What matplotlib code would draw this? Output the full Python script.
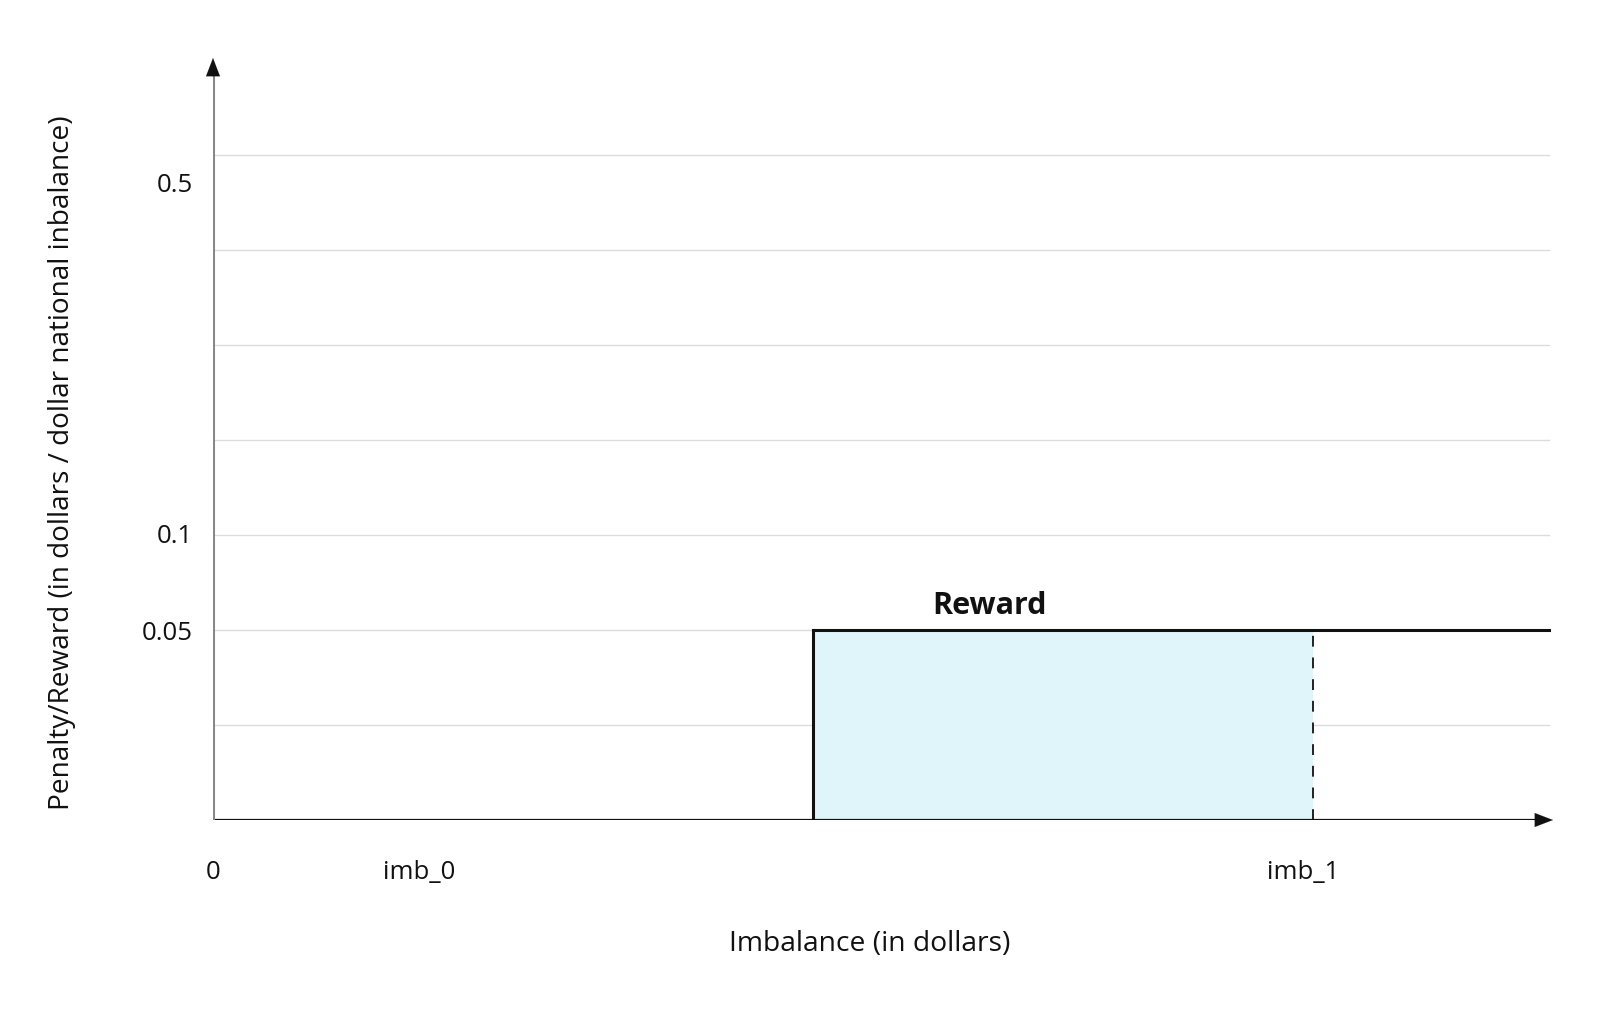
import matplotlib
matplotlib.use("Agg")
import matplotlib.pyplot as plt

plt.rcParams['font.family'] = ['Open Sans', 'DejaVu Sans']

# ---- data ----
grid_levels = [1, 2, 3, 4, 5, 6, 7]
ytick_levels = [2.0, 3.03, 6.72]
ytick_labels = ["0.05", "0.1", "0.5"]
xtick_pos = [0.0, 2.06, 10.9]
xtick_labels = ["0", "imb_0", "imb_1"]
reward_x = [6.0, 11.0]      # reward region start / imb_1
reward_level = 2.0          # level of 0.05
reward_label_x = 7.76
line_end = 13.36
x_max = 13.4
y_max = 8.02

W, H = 1601, 1012
fig = plt.figure(figsize=(W / 100, H / 100), dpi=100)
ax = fig.add_axes([213 / W, (H - 821) / H, (1553 - 213) / W, (821 - 59) / H])
ax.set_xlim(0, x_max)
ax.set_ylim(0, y_max)
for s in ax.spines.values():
    s.set_visible(False)

# gridlines
for g in grid_levels:
    ax.plot([0, line_end], [g, g], color="#dcdcdc", lw=1.0, zorder=1)

# reward region
ax.fill_between(reward_x, 0, reward_level, color="#dff5f9", zorder=2, lw=0)
ax.plot([reward_x[0], reward_x[0]], [0, reward_level], color="#111111", lw=2.2, zorder=4)
ax.plot([reward_x[0], line_end], [reward_level, reward_level], color="#111111", lw=2.2, zorder=4)
ax.plot([reward_x[1], reward_x[1]], [0, reward_level], color="#111111", lw=1.3,
        dashes=(6, 6), zorder=4)
ax.text(reward_label_x, reward_level + 0.11, "Reward",
        fontsize=22, fontweight="bold", ha="center", va="bottom", color="#111111")

# axes with arrows
ax.plot([0, x_max - 0.1], [0, 0], color="#111111", lw=1.6, zorder=5)
ax.annotate("", xy=(x_max, 0), xytext=(x_max - 0.2, 0),
            arrowprops=dict(arrowstyle="-|>,head_length=1.3,head_width=0.5",
                            color="#111111", lw=0.1, shrinkA=0, shrinkB=0), zorder=6)
ax.plot([0, 0], [0, y_max - 0.15], color="#888888", lw=2.2, zorder=5)
ax.annotate("", xy=(0, y_max), xytext=(0, y_max - 0.2),
            arrowprops=dict(arrowstyle="-|>,head_length=1.3,head_width=0.5",
                            color="#111111", lw=0.1, shrinkA=0, shrinkB=0), zorder=6)

# ticks
ax.set_yticks(ytick_levels)
ax.set_yticklabels(ytick_labels, fontsize=18.5, color="#111111")
ax.set_xticks(xtick_pos)
ax.set_xticklabels(xtick_labels, fontsize=18.5, color="#111111")
ax.tick_params(axis="y", length=0, pad=14.5)
ax.tick_params(axis="x", length=0, pad=28)

ax.set_xlabel("Imbalance (in dollars)", fontsize=20.3, color="#111111")
ax.set_ylabel("Penalty/Reward (in dollars / dollar national inbalance)", fontsize=20.2,
              color="#111111")
ax.yaxis.set_label_coords(-0.102, 0.47)
ax.xaxis.set_label_coords(0.49, -0.143)

fig.savefig("out.png", dpi=100, facecolor="white")
